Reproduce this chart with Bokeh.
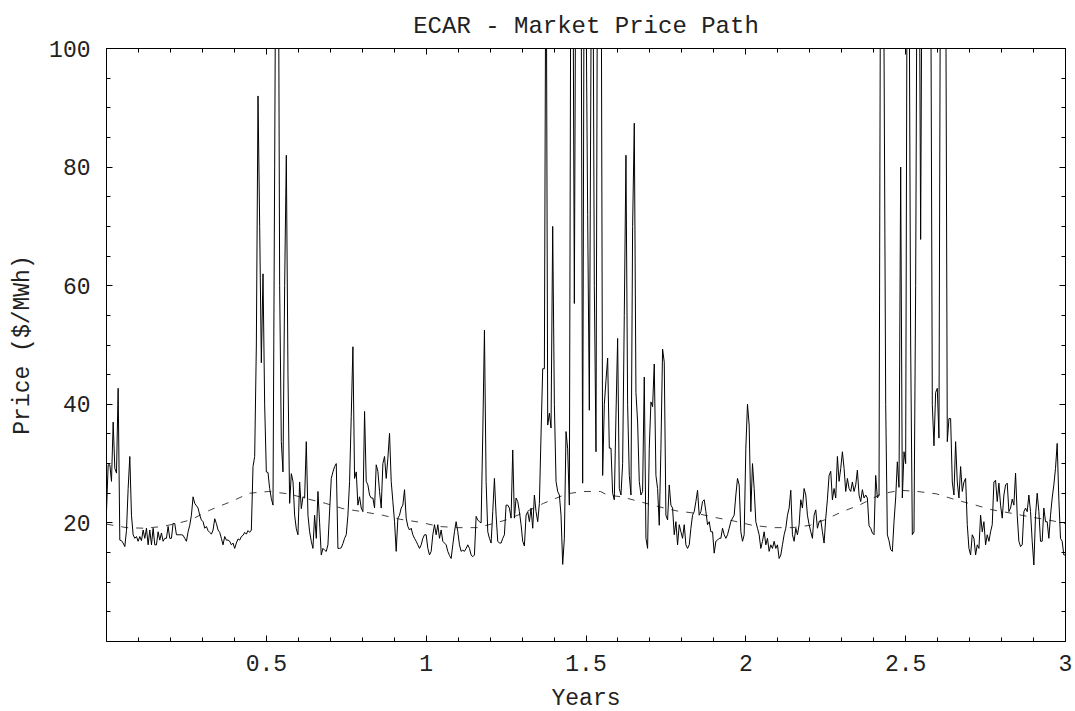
from bokeh.plotting import figure
from bokeh.models import Range1d, FixedTicker, LinearAxis
from bokeh.embed import file_html
from bokeh.resources import INLINE

# ---- data ----
# simulated market price path, equally spaced in time from 0 to 3 years
prices = [
    22, 29.8, 29.8, 27, 37, 29.2, 28.4, 42.7, 17.1, 17,
    16.6, 16, 18.7, 25.8, 31.2, 21.3, 18, 17.4, 17.7, 16.9,
    17.7, 17, 18.8, 17.4, 19.1, 16.3, 18.8, 16.3, 19.1, 16.3,
    16.3, 18.5, 17.1, 18.3, 16.9, 17.4, 17.4, 19.4, 17.4, 17.4,
    19.9, 19.9, 18, 18, 18, 18, 17.9, 17.4, 16.9, 18.5,
    19.6, 21.3, 24.4, 23.3, 22.9, 22.5, 21.3, 20.5, 20.2, 19.1,
    19.4, 18.7, 18.4, 18.1, 18.8, 20.7, 19.9, 18.8, 18.4, 17.4,
    16.3, 17.7, 17.1, 17.1, 16.9, 16.3, 16.6, 15.7, 16.6, 17.3,
    17.1, 17.7, 17.9, 18.4, 18.1, 18.7, 18.4, 18.8, 29.5, 31.2,
    50, 92, 70, 47, 62, 39.9, 28.6, 28.5, 25.8, 24.1,
    23, 80, 140, 140, 60, 33.7, 28.6, 60, 82, 45,
    23.3, 28.3, 27, 21.3, 19, 18, 26.9, 22.4, 24.4, 24.2,
    33.7, 21.3, 18.5, 16.9, 15.7, 21.3, 17.4, 25.3, 20, 14.6,
    15.7, 15.4, 15.2, 16.3, 22, 27.5, 28.6, 29.5, 30, 15.7,
    15.7, 15.8, 16.5, 17.4, 18, 21.3, 27, 38, 49.7, 27.5,
    28.6, 23, 24.4, 22.5, 21.9, 38.8, 27, 26.4, 24.7, 24.2,
    24.2, 22.5, 29.8, 28.7, 25.3, 22.5, 30, 31.2, 27.5, 30.9,
    35.1, 27, 23.6, 20.2, 15.2, 20.8, 21.3, 22.5, 23, 25.6,
    20.8, 19.4, 18.8, 19.1, 18, 17.4, 16.9, 16.3, 15.7, 16.3,
    17.4, 18, 18, 15.7, 14.6, 15.2, 18, 19.7, 18, 19.7,
    17.4, 18.8, 16.9, 16.6, 16.3, 15.2, 14.5, 14, 16.3, 18.5,
    20.2, 18.5, 16.3, 15.2, 15.4, 15.2, 15.7, 16.3, 15.7, 14.6,
    14.3, 14.6, 21.1, 20.5, 20.2, 20, 35, 52.5, 27, 18.5,
    17.4, 16.6, 21.9, 27.5, 21.3, 16.9, 16.6, 16.6, 17.4, 18,
    23, 23, 22.5, 20.8, 32.3, 20.8, 24.2, 23.6, 21.9, 19.7,
    16.9, 16.1, 21.3, 21.9, 20.2, 22.5, 19.1, 24.7, 21.9, 20.2,
    23.3, 35, 46, 46, 130, 36.5, 38.5, 36, 70, 40,
    27, 25.3, 24.7, 21.3, 13, 17.4, 35.4, 32.5, 23, 130,
    130, 57, 130, 130, 130, 120, 26.7, 130, 110, 72,
    39, 100, 130, 60, 32, 130, 130, 130, 28, 40,
    44, 47.8, 32.6, 32.6, 25, 23.9, 38.2, 51.1, 25.8, 24.7,
    30, 55, 82, 40, 28, 24.7, 70, 87.4, 42, 37,
    27, 24.7, 25.3, 44.6, 17.4, 15.7, 32.6, 40.4, 39.6, 46.8,
    28, 25.8, 19.6, 32.6, 49.3, 47.1, 21.3, 20.5, 26.4, 23,
    22.5, 18, 20.2, 16.3, 19.7, 18.5, 17.4, 19.7, 16.3, 15.7,
    16.3, 19.1, 21.3, 21.9, 23.6, 25.5, 21.3, 21.9, 23.6, 23.9,
    21.9, 19.7, 20.2, 18.5, 18.5, 14.9, 16.9, 17.1, 17.4, 17.4,
    19.1, 18, 17.4, 18, 19.1, 20.2, 20.8, 21.3, 24.7, 27.5,
    26.4, 18.5, 16.9, 18, 32.6, 40, 36.5, 21.9, 30, 25.8,
    20.2, 19.1, 18, 15.7, 16.9, 18.5, 16.3, 17.4, 15.2, 16.3,
    15.7, 16.9, 15.7, 16.3, 14, 14.6, 16.3, 18, 19.1, 21.3,
    22.5, 25.5, 18, 16.9, 19.1, 18, 19.7, 23.9, 22.5, 25.8,
    24.7, 21.3, 19.7, 18.5, 17.4, 21.3, 22.2, 19.1, 20.2, 20.5,
    18.5, 16.6, 20.8, 24, 28, 28.7, 23.9, 25.8, 24.2, 31.2,
    27, 29.2, 32, 29.2, 25.3, 27.5, 25.8, 25.3, 26.9, 25.3,
    26.4, 28.9, 24.7, 23.6, 25.6, 24.2, 24.7, 24.2, 19.5, 19.1,
    18.3, 18, 28, 24.2, 24.7, 130, 130, 100, 40, 18,
    17, 15.5, 15.2, 20.2, 24.2, 30.3, 26, 80, 24.2, 32,
    30, 130, 120, 50, 18, 18.5, 60, 130, 130, 67.8,
    130, 130, 130, 130, 130, 120, 40, 33, 42, 42.7,
    34.3, 130, 130, 130, 120, 33.7, 37.6, 37.6, 26.9, 24.7,
    33.7, 26.9, 24.2, 29.5, 25.3, 26.9, 27.5, 19.7, 15.7, 14.6,
    18, 17.4, 14.6, 16.3, 15.7, 21.3, 18.5, 20.2, 16.3, 18,
    16.9, 18.5, 19.7, 26.9, 27.2, 23.6, 26.7, 23, 20.8, 24.7,
    26.4, 26.7, 21.9, 22.5, 24, 23, 28.4, 21.3, 16.9, 16,
    16.3, 21.9, 22.5, 21.9, 24.7, 21.9, 16.9, 12.9, 21.3, 25,
    21.9, 16.9, 16.9, 22.5, 20.2, 20.2, 17.4, 21.3, 24.2, 26.4,
    29.2, 33.4, 24, 17.4, 16.9, 14.6, 14.6,
]
T_END = 3.0
years = [T_END * i / (len(prices) - 1) for i in range(len(prices))]

# seasonal mean price (dashed curve)
mean_years = [0.0, 0.063, 0.12, 0.175, 0.22, 0.263, 0.325, 0.39, 0.447, 0.507,
              0.57, 0.625, 0.685, 0.74, 0.80, 0.863, 0.92, 0.982, 1.04, 1.098,
              1.16, 1.204, 1.25, 1.314, 1.367, 1.44, 1.49, 1.545, 1.567, 1.611,
              1.667, 1.73, 1.786, 1.846, 1.905, 1.964, 2.02, 2.086, 2.146, 2.202,
              2.246, 2.302, 2.355, 2.424, 2.484, 2.537, 2.596, 2.656, 2.712, 2.771,
              2.834, 2.89, 2.946, 3.0]
mean_price = [19.8, 19.2, 19.1, 19.4, 19.9, 20.5, 22.2, 23.6, 25.0, 25.3,
              24.9, 24.1, 23.3, 22.4, 21.9, 21.3, 20.6, 20.1, 19.4, 19.2,
              19.2, 19.8, 20.5, 21.9, 23.3, 24.9, 25.3, 25.3, 24.7, 24.4,
              23.6, 22.7, 22.0, 21.6, 20.9, 20.3, 19.6, 19.2, 19.2, 19.6,
              20.5, 21.9, 23.0, 24.9, 25.5, 25.3, 24.9, 23.9, 23.1, 22.2,
              21.6, 21.0, 20.5, 19.9]

x_major = [0.5, 1, 1.5, 2, 2.5, 3]
x_labels = ["0.5", "1", "1.5", "2", "2.5", "3"]
x_minor = [0.1, 0.2, 0.3, 0.4, 0.6, 0.7, 0.8, 0.9, 1.1, 1.2, 1.3, 1.4,
           1.6, 1.7, 1.8, 1.9, 2.1, 2.2, 2.3, 2.4, 2.6, 2.7, 2.8, 2.9]
y_major = [20, 40, 60, 80, 100]
y_minor = [5, 10, 15, 25, 30, 35, 45, 50, 55, 65, 70, 75, 85, 90, 95]

FONT = "Liberation Mono"
FS = "23px"
TXT = "#222222"

p = figure(frame_width=959, frame_height=593,
           x_range=Range1d(0, 3), y_range=Range1d(0, 100),
           output_backend="svg", toolbar_location=None,
           min_border_left=106, min_border_right=10,
           min_border_top=48, min_border_bottom=70,
           title="ECAR - Market Price Path")
p.background_fill_color = "white"
p.border_fill_color = "white"
p.grid.visible = False
p.outline_line_color = "black"
p.outline_line_width = 1

p.title.text_font = FONT
p.title.text_font_size = "24px"
p.title.text_font_style = "normal"
p.title.align = "center"
p.title.text_color = TXT
p.title.standoff = 17

xt = FixedTicker(ticks=x_major, minor_ticks=x_minor)
yt = FixedTicker(ticks=y_major, minor_ticks=y_minor)


def style(ax, labels=True):
    ax.major_tick_in = 6
    ax.major_tick_out = 0
    ax.minor_tick_in = 4
    ax.minor_tick_out = 0
    ax.major_tick_line_color = "black"
    ax.minor_tick_line_color = "black"
    ax.axis_line_color = "black"
    ax.major_label_text_font = FONT
    ax.major_label_text_color = TXT
    ax.axis_label_text_font = FONT
    ax.axis_label_text_font_size = FS
    ax.axis_label_text_font_style = "normal"
    ax.axis_label_text_color = TXT
    if labels:
        ax.major_label_text_font_size = FS
    else:
        ax.major_label_text_font_size = "1px"
        ax.major_label_text_alpha = 0
        ax.major_label_standoff = 0


p.xaxis.ticker = xt
p.yaxis.ticker = yt
p.xaxis.major_label_overrides = {t: s for t, s in zip(x_major, x_labels)}
p.xaxis.axis_label = "Years"
p.yaxis.axis_label = "Price ($/MWh)"
style(p.xaxis[0])
style(p.yaxis[0])
p.xaxis.major_label_standoff = 13
p.xaxis.axis_label_standoff = 12
p.yaxis.major_label_standoff = 16
p.yaxis.axis_label_standoff = 10

top = LinearAxis(ticker=xt)
style(top, labels=False)
p.add_layout(top, "above")
right = LinearAxis(ticker=yt)
style(right, labels=False)
p.add_layout(right, "right")

p.line(mean_years, mean_price, line_color="black", line_width=1,
       line_dash="7 8", line_alpha=0.75)
p.line(years, prices, line_color="black", line_width=1)

open("out.html", "w").write(file_html(p, INLINE))
